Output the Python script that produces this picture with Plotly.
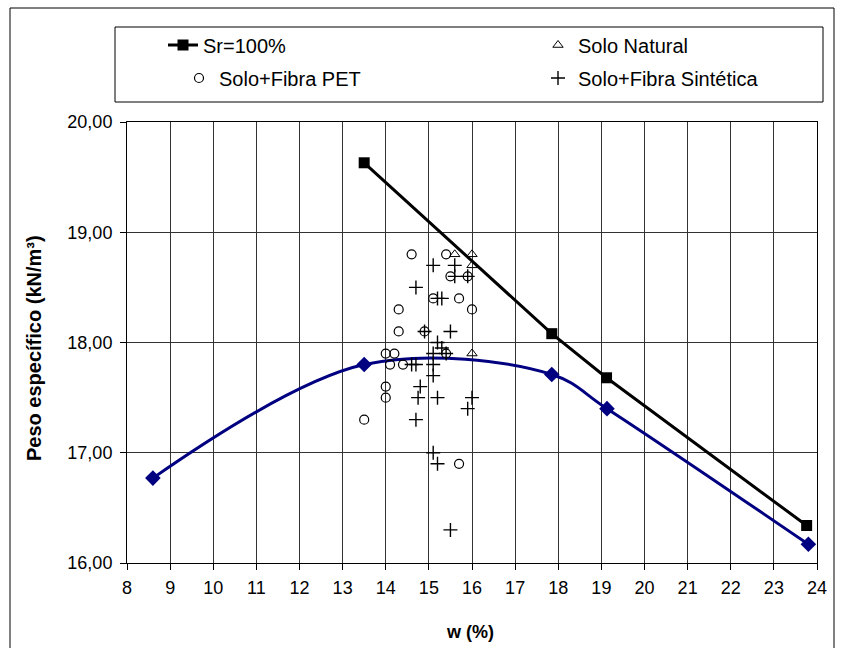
import plotly.graph_objects as go

# Saturation line (Sr = 100%)
sr_w = [13.5, 17.85, 19.12, 23.76]
sr_gamma = [19.63, 18.08, 17.68, 16.34]

# Compaction curve
cc_w = [8.6, 13.5, 17.85, 19.13, 23.8]
cc_gamma = [16.77, 17.80, 17.71, 17.40, 16.17]

# Solo Natural
nat_w = [15.6, 16.0, 16.0, 16.0]
nat_gamma = [18.8, 18.8, 18.7, 17.9]

# Solo + Fibra PET
pet_w = [14.6, 15.4, 15.5, 15.9, 15.1, 15.7, 14.3, 16.0, 14.3, 14.9,
         14.0, 14.2, 15.4, 14.1, 14.4, 14.0, 14.0, 13.5, 15.7]
pet_gamma = [18.8, 18.8, 18.6, 18.6, 18.4, 18.4, 18.3, 18.3, 18.1, 18.1,
             17.9, 17.9, 17.9, 17.8, 17.8, 17.6, 17.5, 17.3, 16.9]

# Solo + Fibra Sintética
sin_w = [15.1, 15.6, 15.6, 15.9, 14.7, 15.2, 15.3, 14.9, 15.5, 15.2,
         15.3, 15.1, 15.4, 14.6, 14.7, 15.1, 15.1, 14.8, 14.75, 15.2,
         16.0, 15.9, 14.7, 15.1, 15.2, 15.5]
sin_gamma = [18.7, 18.7, 18.6, 18.6, 18.5, 18.4, 18.4, 18.1, 18.1, 18.0,
             17.95, 17.9, 17.9, 17.8, 17.8, 17.8, 17.7, 17.6, 17.5, 17.5,
             17.5, 17.4, 17.3, 17.0, 16.9, 16.3]

x_ticks = list(range(8, 25))
y_ticks = [16, 17, 18, 19, 20]

FONT = "Liberation Sans, Arial, sans-serif"

fig = go.Figure()

fig.add_trace(go.Scatter(
    x=sr_w, y=sr_gamma, mode="lines+markers", name="Sr=100%",
    line=dict(color="black", width=3),
    marker=dict(symbol="square", size=11, color="black"),
    legend="legend",
))
fig.add_trace(go.Scatter(
    x=cc_w, y=cc_gamma, mode="lines+markers", showlegend=False,
    line=dict(color="#000080", width=3, shape="spline", smoothing=1.0),
    marker=dict(symbol="diamond", size=12, color="#000080"),
))
fig.add_trace(go.Scatter(
    x=nat_w, y=nat_gamma, mode="markers", name="Solo Natural",
    marker=dict(symbol="triangle-up-open", size=9, color="black",
                line=dict(width=1, color="black")),
    legend="legend2",
))
fig.add_trace(go.Scatter(
    x=pet_w, y=pet_gamma, mode="markers", name="Solo+Fibra PET",
    marker=dict(symbol="circle-open", size=9, color="black",
                line=dict(width=1.2, color="black")),
    legend="legend3",
))
fig.add_trace(go.Scatter(
    x=sin_w, y=sin_gamma, mode="markers", name="Solo+Fibra Sintética",
    marker=dict(symbol="cross-thin-open", size=10, color="black",
                line=dict(width=1.4, color="black")),
    legend="legend4",
))

legend_common = dict(
    orientation="v", bgcolor="rgba(0,0,0,0)", borderwidth=0,
    font=dict(family=FONT, size=20, color="black"),
    xanchor="left", yanchor="middle",
)

W, H = 843, 648
L, R, T, B = 127, 26, 122, 85
PW, PH = W - L - R, H - T - B


def px(xp):
    return (xp - L) / PW


def py(yp):
    return (H - B - yp) / PH


fig.update_layout(
    width=W, height=H,
    margin=dict(l=L, r=R, t=T, b=B),
    paper_bgcolor="white", plot_bgcolor="white",
    separators=",.",
    font=dict(family=FONT, size=16, color="black"),
    legend=dict(legend_common, x=px(163), y=py(45)),
    legend2=dict(legend_common, x=px(538), y=py(45)),
    legend3=dict(legend_common, x=px(179), y=py(78)),
    legend4=dict(legend_common, x=px(538), y=py(78)),
    xaxis=dict(
        range=[8, 24], tickvals=x_ticks, ticktext=[str(v) for v in x_ticks],
        showgrid=True, gridcolor="#333", gridwidth=1,
        showline=True, linecolor="black", linewidth=1, mirror=True,
        ticks="outside", ticklen=6, tickcolor="black",
        ticklabelstandoff=2,
        tickfont=dict(family=FONT, size=18, color="black"),
        zeroline=False,
    ),
    yaxis=dict(
        range=[16, 20], tickvals=y_ticks, tickformat=".2f",
        showgrid=True, gridcolor="#333", gridwidth=1,
        showline=True, linecolor="black", linewidth=1, mirror=True,
        ticks="outside", ticklen=6, tickcolor="black",
        ticklabelstandoff=4,
        tickfont=dict(family=FONT, size=18, color="black"),
        zeroline=False,
    ),
    shapes=[
        # outer chart frame
        dict(type="rect", xref="paper", yref="paper",
             x0=px(10), x1=px(834), y0=py(660), y1=py(8),
             line=dict(color="black", width=1), layer="below"),
        # legend box
        dict(type="rect", xref="paper", yref="paper",
             x0=px(115), x1=px(823), y0=py(102), y1=py(27),
             line=dict(color="black", width=1), layer="below"),
    ],
    annotations=[
        dict(text="<b>Peso específico (kN/m³)</b>", xref="paper", yref="paper",
             x=px(34), y=py(348), textangle=-90, showarrow=False,
             font=dict(family=FONT, size=20, color="black"),
             xanchor="center", yanchor="middle"),
        dict(text="<b>w (%)</b>", xref="paper", yref="paper",
             x=px(470), y=py(632), showarrow=False,
             font=dict(family=FONT, size=18, color="black"),
             xanchor="center", yanchor="middle"),
    ],
)

fig.write_html("out.html")
